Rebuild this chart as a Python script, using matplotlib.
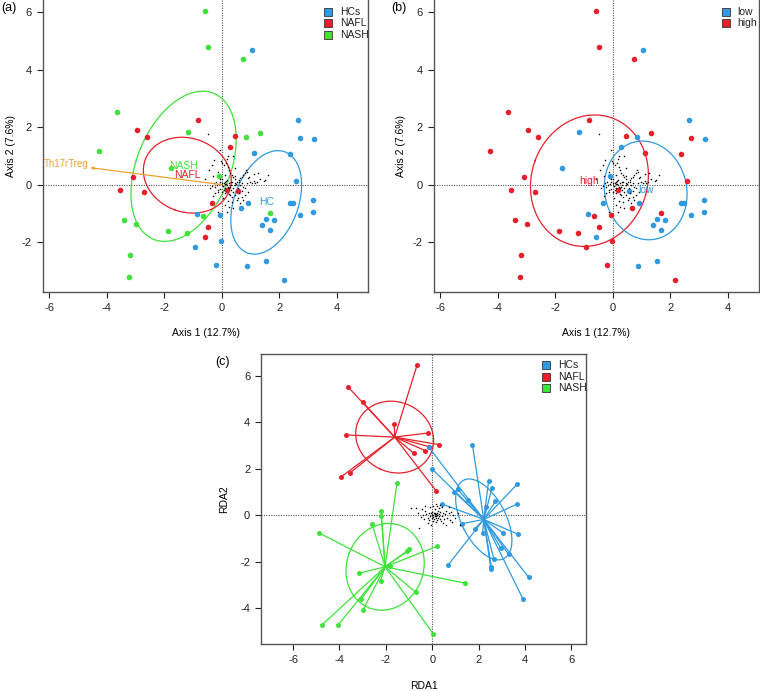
import numpy as np
import matplotlib
matplotlib.use("Agg")
import matplotlib.pyplot as plt

plt.rcParams['font.family'] = ['Liberation Sans', 'DejaVu Sans']
plt.rcParams['axes.unicode_minus'] = False

# ---------------- data: panels (a) and (b) (same ordination) ----------------
ab_x = [-0.59, -0.48, 0.72, -3.66, -4.26, -1.19, 0.84, 1.33, -1.78, -0.09,
        -3.39, -2.99, -1.86, -1.20, -0.64, 1.68, -3.19, -3.23,
        -0.82, -2.95, -2.60, 0.45, 0.29, -3.08, -3.53, -2.72, 0.19, 0.55,
        -0.34, -0.49, -0.59,
        1.06, 2.63, 2.71, 3.19, 1.10, 2.37, 2.59, 2.38, 2.47, 3.18, 3.18,
        2.72, 0.90, 0.67, -0.85, -0.05, 1.54, 1.82, 1.39, 1.67, -0.02,
        -0.95, -0.21, 0.86, 1.54, 2.17]
ab_y = [6.04, 4.79, 4.38, 2.52, 1.17, 1.83, 1.67, 1.80, 0.58, 0.30,
        -1.22, -1.37, -1.60, -1.67, -1.10, -0.97, -2.43, -3.22,
        2.26, 1.91, 1.67, 1.70, 1.30, 0.26, -0.20, -0.27, -0.18, -0.23,
        -0.63, -1.47, -1.82,
        4.69, 2.26, 1.61, 1.60, 1.10, 1.08, 0.12, -0.63, -0.63, -0.54, -0.96,
        -1.04, -0.63, -0.81, -1.03, -1.05, -1.20, -1.24, -1.40, -1.56, -1.97,
        -2.16, -2.79, -2.83, -2.65, -3.33]
ab_group = ['NASH'] * 18 + ['NAFL'] * 13 + ['HC'] * 26
b_level = ['high', 'high', 'high', 'high', 'high', 'low', 'low', 'high', 'low', 'low',
           'high', 'high', 'high', 'high', 'high', 'high', 'high', 'high',
           'high', 'high', 'high', 'high', 'low', 'high', 'high', 'high', 'high', 'low',
           'low', 'high', 'low',
           'low', 'low', 'high', 'low', 'high', 'high', 'high', 'low', 'low', 'low', 'low',
           'low', 'low', 'high', 'low', 'high', 'low', 'low', 'low', 'low', 'high',
           'high', 'high', 'low', 'low', 'high']

# species scores (small black dots), panels (a)/(b)
sp_ab_x = [-0.50, -0.02, 0.00, 0.06, 0.14, 0.21, 0.23, 0.29, 0.35, 0.37, 0.44, 0.52,
           0.58, 0.64, 0.69, 0.75, 0.81, 0.87, 0.92, 0.98, 1.04, 1.10, 1.16, 1.21,
           1.33, 1.45, 1.50, 0.83, 0.95, 1.13, 0.44, -0.23, -0.12, 0.00, 0.11, 0.23,
           0.35, 0.46, 0.58, 0.69, 0.81, 0.92, 0.52, 0.64, 0.35, 0.23, 0.11, -0.41,
           -0.29, -0.18, -0.06, 0.06, 0.17, 0.29, 0.40, 0.46, 0.64, 0.75, 0.87, 0.69,
           0.81, 0.75, 0.40, 0.17, 1.62, 1.24, -0.12, 0.38, -0.35, -0.45, -0.60,
           -0.30, 0.20, 0.10, 0.30, 0.05, 0.15, 0.25, -0.05, 0.45, 0.55, 0.33,
           0.05, 0.10, 0.15, 0.00, -0.05, 0.20, 0.12, 0.25, -0.10, 0.08, 0.30, 0.18,
           -0.15, 0.35, 0.02, -0.20, 0.40, 0.50, -0.25, 0.28, 0.60, 0.10, -0.30, 0.55,
           0.05, -0.12, 0.70, 0.45, -0.35, 0.22, -0.28, -0.08, 0.18]
sp_ab_y = [1.75, 0.82, 0.74, 0.68, 0.77, 0.63, 0.51, 0.42, 0.34, 0.26, 0.19, 0.10,
           0.16, 0.22, 0.28, 0.34, 0.40, 0.45, 0.22, 0.10, 0.05, 0.13, 0.07, 0.08,
           0.19, 0.14, 0.16, 0.51, 0.28, 0.36, 0.59, -0.07, -0.18, -0.24, -0.28, -0.32,
           -0.42, -0.36, -0.30, -0.21, -0.13, -0.24, -0.53, -0.65, -0.59, -0.76, -0.71, -0.13,
           0.05, -0.01, 0.11, 0.05, -0.01, -0.07, -0.13, -0.01, -0.01, -0.07, 0.05, -0.42,
           -0.36, -0.53, -0.82, -0.94, 0.34, 0.42, -0.94, 1.00, 0.70, 0.50, 0.20,
           -0.40, 1.00, 0.02, 0.08, -0.05, 0.12, -0.12, 0.20, 0.05, -0.10, 0.00,
           -0.05, -0.12, 0.02, 0.05, -0.15, -0.08, 0.10, 0.05, 0.02, -0.20, -0.18, 0.15,
           -0.25, 0.10, 0.20, 0.10, -0.25, 0.02, -0.30, -0.35, 0.10, 0.35, 0.30, -0.45,
           -0.45, 0.45, 0.05, 0.30, -0.05, -0.55, 0.85, 1.20, 0.90]

# envfit arrow
arrow_tip = (-4.57, 0.59)
arrow_label_pos = (-5.40, 0.73)
arrow_label = 'Th17rTreg'

# ---------------- data: panel (c) (RDA) ----------------
c_x = [-0.65, -3.62, -2.99, -1.64, -3.71, -0.20, -0.80, -0.30, 0.30, -3.95, -3.55, 0.16, -0.13,
       1.73, -0.14, -0.01, 2.43, 2.57, 3.65, 1.09, 0.95, 1.53, 2.72, 2.32, 3.65, 0.43,
       1.30, 1.84, 2.17, 3.05, 3.71, 3.29, 2.96, 2.65, 0.69, 2.55, 2.53, 4.15, 3.92,
       -1.52, -2.20, -2.20, -2.60, -4.88, -0.99, -1.08, 0.19, -3.14, -2.23, -1.84,
       1.41, -0.70, -3.07, -2.99, -4.75, -4.05, 0.05]
c_y = [6.48, 5.51, 4.86, 3.93, 3.46, 3.54, 2.67, 2.78, 3.04, 1.64, 1.82, 1.06, 2.95,
       3.04, 2.92, 1.99, 1.49, 1.16, 1.33, 1.13, 1.01, 0.66, 0.60, 0.34, 0.48, 0.48,
       -0.36, -0.58, -0.76, -0.76, -0.82, -1.68, -1.42, -1.87, -2.13, -2.24, -2.33, -2.66, -3.62,
       1.39, 0.18, -0.02, -0.36, -0.76, -1.47, -1.55, -1.34, -2.49, -2.82, -2.18,
       -2.92, -3.32, -3.61, -4.08, -4.71, -4.71, -5.11]
c_group = ['NAFL'] * 13 + ['HC'] * 26 + ['NASH'] * 18

sp_c_x = [0.05, 0.10, -0.05, 0.15, 0.20, -0.10, 0.00, 0.25, 0.30, -0.15, 0.08, 0.35,
          -0.20, 0.40, 0.12, -0.25, 0.45, 0.02, 0.50, -0.30, 0.55, 0.18, -0.35, 0.60,
          0.28, -0.40, 0.65, 0.38, -0.10, 0.70, -0.45, 0.22, 0.75, -0.50, 0.80, 0.48,
          -0.05, 0.90, -0.60, 0.32, 1.00, -0.70, 1.10, 0.60, -0.20, 0.15, -0.56, -0.93,
          1.20, 0.85, 0.42, -0.32, 0.05, 0.70, -0.15, 0.25, 0.35, 0.00, 0.10, 0.20,
          0.12, 0.03, 0.22, 0.08, 0.18, -0.02, 0.28, 0.14]
sp_c_y = [0.00, 0.05, 0.08, -0.05, 0.10, -0.05, 0.15, -0.10, 0.05, 0.12, -0.15, 0.15,
          -0.10, -0.05, 0.25, 0.05, 0.10, -0.25, -0.15, 0.20, 0.05, -0.30, -0.15, 0.20,
          0.30, 0.00, -0.10, -0.25, 0.35, 0.08, 0.25, 0.40, -0.20, -0.08, 0.15, -0.35,
          -0.40, 0.00, 0.12, 0.45, -0.12, 0.30, 0.08, -0.40, -0.35, 0.50, -0.55, 0.33,
          -0.40, -0.30, 0.35, 0.40, 0.40, 0.35, -0.20, 0.20, -0.15, -0.10, 0.10, -0.20,
          -0.02, -0.08, 0.02, 0.12, -0.12, 0.03, -0.04, 0.06]

# ---------------- styles ----------------
COL = {'HC': '#2f9ae0', 'NAFL': '#e8202b', 'NASH': '#3ee23a',
       'low': '#2f9ae0', 'high': '#e8202b'}
ORANGE = '#f0a030'
W, H = 760, 691
FS = 7.5
TFS = 8

fig = plt.figure(figsize=(W / 100, H / 100), dpi=100)


def px_axes(left, top, right, bottom):
    return fig.add_axes([left / W, 1 - bottom / H, (right - left) / W, (bottom - top) / H])


def style(ax, xlim, ylim, xt, yt, xlabel, ylabel, hide_top=False, ylpad=5):
    ax.set_xlim(*xlim)
    ax.set_ylim(*ylim)
    ax.set_xticks(xt)
    ax.set_yticks(yt)
    ax.tick_params(direction='out', length=4, width=0.8, labelsize=TFS, pad=4, colors='#222222')
    for s in ax.spines.values():
        s.set_linewidth(1.0)
        s.set_color('#555555')
    if hide_top:
        ax.spines['top'].set_visible(False)
    ax.set_xlabel(xlabel, fontsize=FS, labelpad=11)
    ax.set_ylabel(ylabel, fontsize=FS, labelpad=ylpad)
    ax.axhline(0, color='#555555', lw=0.8, ls=(0, (1, 1.2)), zorder=1)
    ax.axvline(0, color='#555555', lw=0.8, ls=(0, (1, 1.2)), zorder=1)


def sd_ellipse(x, y, n=200):
    pts = np.column_stack([x, y])
    c = pts.mean(axis=0)
    cov = np.cov(pts.T)
    w, v = np.linalg.eigh(cov)
    t = np.linspace(0, 2 * np.pi, n)
    circ = np.column_stack([np.cos(t), np.sin(t)])
    e = c + circ @ (v * np.sqrt(w)).T
    return c, e


def legend(ax, names, labels, x_sq, x_tx, y0, dy):
    for i, (nm, lb) in enumerate(zip(names, labels)):
        yy = y0 - i * dy
        ax.plot([x_sq], [yy], marker='s', ms=5.2, mfc=COL[nm], mec='#333333', mew=0.6,
                transform=ax.transAxes, clip_on=False, zorder=6)
        ax.text(x_tx, yy, lb, transform=ax.transAxes, fontsize=FS, va='center', ha='left',
                color='#222222')


abx = np.array(ab_x)
aby = np.array(ab_y)

# ---------------- panel (a) ----------------
axA = px_axes(43, 0, 368, 292)
style(axA, (-6.22, 5.08), (-3.73, 6.42), range(-6, 5, 2), range(-2, 7, 2),
      'Axis 1 (12.7%)', 'Axis 2 (7.6%)', hide_top=True, ylpad=4)
grpA = np.array(ab_group)
for g in ['NASH', 'NAFL', 'HC']:
    m = grpA == g
    c, e = sd_ellipse(abx[m], aby[m])
    axA.plot(e[:, 0], e[:, 1], color=COL[g], lw=0.9, zorder=2)
for g in ['NASH', 'NAFL', 'HC']:
    m = grpA == g
    axA.plot(abx[m], aby[m], 'o', ms=4.0, mfc=COL[g], mec=COL[g], mew=0, zorder=3)
axA.plot(sp_ab_x, sp_ab_y, 'o', ms=1.1, color='black', mew=0, zorder=4)
for g in ['NASH', 'NAFL', 'HC']:
    m = grpA == g
    axA.text(abx[m].mean(), aby[m].mean(), g, color=COL[g], fontsize=7.5,
             ha='center', va='center', zorder=5)
axA.annotate('', xy=arrow_tip, xytext=(0, 0),
             arrowprops=dict(arrowstyle='-|>', color=ORANGE, lw=0.9, mutation_scale=4,
                             shrinkA=0, shrinkB=0), zorder=5)
axA.text(arrow_label_pos[0], arrow_label_pos[1], arrow_label, color=ORANGE, fontsize=7,
         ha='center', va='center', zorder=5)
legend(axA, ['HC', 'NAFL', 'NASH'], ['HCs', 'NAFL', 'NASH'], 0.877, 0.914, 0.960, 0.0394)

# ---------------- panel (b) ----------------
axB = px_axes(434, 0, 759, 292)
style(axB, (-6.22, 5.08), (-3.73, 6.42), range(-6, 5, 2), range(-2, 7, 2),
      'Axis 1 (12.7%)', 'Axis 2 (7.6%)', hide_top=True, ylpad=5)
lvB = np.array(b_level)
for g in ['high', 'low']:
    m = lvB == g
    c, e = sd_ellipse(abx[m], aby[m])
    axB.plot(e[:, 0], e[:, 1], color=COL[g], lw=0.9, zorder=2)
for g in ['high', 'low']:
    m = lvB == g
    axB.plot(abx[m], aby[m], 'o', ms=4.0, mfc=COL[g], mec=COL[g], mew=0, zorder=3)
axB.plot(sp_ab_x, sp_ab_y, 'o', ms=1.1, color='black', mew=0, zorder=4)
for g in ['high', 'low']:
    m = lvB == g
    axB.text(abx[m].mean(), aby[m].mean(), g, color=COL[g], fontsize=7.5,
             ha='center', va='center', zorder=5)
legend(axB, ['low', 'high'], ['low', 'high'], 0.8975, 0.932, 0.959, 0.0394)

# ---------------- panel (c) ----------------
axC = px_axes(261.3, 354, 586.3, 644.3)
style(axC, (-7.37, 6.64), (-5.55, 6.94), range(-6, 7, 2), range(-4, 7, 2), 'RDA1', 'RDA2',
      ylpad=8)
cx = np.array(c_x)
cy = np.array(c_y)
grpC = np.array(c_group)
for g in ['NAFL', 'HC', 'NASH']:
    m = grpC == g
    c, e = sd_ellipse(cx[m], cy[m])
    axC.plot(e[:, 0], e[:, 1], color=COL[g], lw=0.9, zorder=2)
    for xi, yi in zip(cx[m], cy[m]):
        axC.plot([c[0], xi], [c[1], yi], color=COL[g], lw=0.9, zorder=2)
    axC.plot(cx[m], cy[m], 'o', ms=3.6, mfc=COL[g], mec=COL[g], mew=0, zorder=3)
axC.plot(sp_c_x, sp_c_y, 'o', ms=1.1, color='black', mew=0, zorder=4)
legend(axC, ['HC', 'NAFL', 'NASH'], ['HCs', 'NAFL', 'NASH'], 0.875, 0.913, 0.962, 0.040)

# panel letters
fig.text(1 / W, 1 - 8 / H, '(a)', fontsize=9, ha='left', va='center')
fig.text(391 / W, 1 - 8 / H, '(b)', fontsize=9, ha='left', va='center')
fig.text(215 / W, 1 - 362 / H, '(c)', fontsize=9, ha='left', va='center')

fig.savefig('out.png', dpi=100)
